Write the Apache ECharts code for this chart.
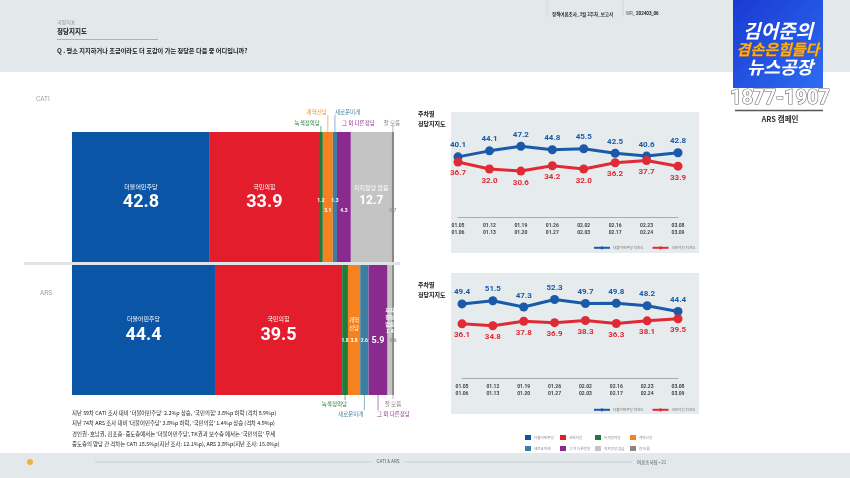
<!DOCTYPE html>
<html>
<head>
<meta charset="utf-8">
<script src="https://cdn.jsdelivr.net/npm/echarts/dist/echarts.min.js"></script>
<style>
  html, body { margin: 0; padding: 0; background: #fff; }
  #main { width: 850px; height: 478px; }
</style>
</head>
<body>
<div id="main"></div>
<script>
// party shares (%)
const parties = ["더불어민주당", "국민의힘", "녹색정의당", "개혁신당", "새로운미래", "그 외 다른정당", "지지정당 없음", "잘 모름"];
const catiShares = [42.8, 33.9, 1.2, 3.1, 1.3, 4.3, 12.7, 0.7];
const arsShares = [44.4, 39.5, 1.8, 3.8, 2.6, 5.9, 1.4, 0.6];

// weekly trend
const weekLabels = ["01.05\n01.06", "01.12\n01.13", "01.19\n01.20", "01.26\n01.27", "02.02\n02.03", "02.16\n02.17", "02.23\n02.24", "03.08\n03.09"];
const catiDemTrend = [40.1, 44.1, 47.2, 44.8, 45.5, 42.5, 40.6, 42.8];
const catiPppTrend = [36.7, 32.0, 30.6, 34.2, 32.0, 36.2, 37.7, 33.9];
const arsDemTrend = [49.4, 51.5, 47.3, 52.3, 49.7, 49.8, 48.2, 44.4];
const arsPppTrend = [36.1, 34.8, 37.8, 36.9, 38.3, 36.3, 38.1, 39.5];
const trendNames = ["더불어민주당 지지도", "국민의힘 지지도"];

const notes = [
  "지난 59차 CATI 조사 대비 '더불어민주당' 2.2%p 상승, '국민의힘' 3.8%p 하락 (격차 8.9%p)",
  "지난 74차 ARS 조사 대비 '더불어민주당' 3.8%p 하락, '국민의힘' 1.4%p 상승 (격차 4.9%p)",
  "경인권·호남권, 김포층·중도층에서는 '더불어민주당', TK권과 보수층 에서는 '국민의힘' 우세",
  "중도층의 양당 간 격차는 CATI 18.5%p(지난 조사: 12.1%p), ARS 2.8%p(지난 조사: 15.0%p)"
];

const partyColors = ["#0b55a6", "#e31d2c", "#1e7b3c", "#f5821f", "#3d7ea0", "#8b2a8e", "#c4c4c4", "#8c8680"];
const blue = "#1a5aa8";
const red = "#e02a35";
const KR = '"Noto Sans CJK KR", "Noto Sans", sans-serif';
const NUM = 'Roboto, "Noto Sans", sans-serif';

const chart = echarts.init(document.getElementById("main"));

function bigLabel(nameLh, valSize, valLh, dy) {
  return {
    show: true, position: "inside", offset: [0, dy],
    formatter: p => `{n|${p.seriesName}}\n{v|${p.value.toFixed(1)}}`,
    rich: {
      n: { fontSize: 6, color: "#fff", lineHeight: nameLh, fontFamily: KR },
      v: { fontSize: valSize, fontWeight: "bold", color: "#fff", lineHeight: valLh, fontFamily: NUM }
    }
  };
}
function smallLabel(dy, color, size) {
  return {
    show: true, position: "inside", offset: [0, dy],
    formatter: p => p.value.toFixed(1),
    fontSize: size || 5, fontWeight: "bold", color: color || "#fff", fontFamily: NUM
  };
}
const splitLabel = {
  show: true, position: "inside", offset: [0, 3],
  formatter: p => `{n|${p.seriesName.slice(0, 2)}}\n{n|${p.seriesName.slice(2)}}\n{v|${p.value.toFixed(1)}}`,
  rich: {
    n: { fontSize: 5.5, color: "#fff", lineHeight: 8, fontFamily: KR },
    v: { fontSize: 5, fontWeight: "bold", color: "#fff", lineHeight: 18, fontFamily: NUM }
  }
};
const stackedTextLabel = {
  show: true, position: "inside", offset: [0, -9],
  formatter: p => {
    const s = p.seriesName.replace(" ", "");
    return [s.slice(0, 2), s.slice(2, 4), s.slice(4), p.value.toFixed(1)].join("\n");
  },
  fontSize: 5, fontWeight: "bold", color: "#fff", lineHeight: 7, fontFamily: KR
};

const catiLabels = [bigLabel(12, 18, 18, -1), bigLabel(12, 18, 18, -1), smallLabel(4), smallLabel(14), smallLabel(4), smallLabel(14), bigLabel(12, 12, 14, -2), smallLabel(14, "#9a9a9a")];
const arsLabels = [bigLabel(14, 18, 18, -2), bigLabel(14, 18, 18, -2), smallLabel(11), splitLabel, smallLabel(11), smallLabel(11, "#fff", 9), stackedTextLabel, smallLabel(11, "#9a9a9a")];

const series = [];
parties.forEach((name, i) => {
  series.push({
    type: "bar", name: name, stack: "cati", xAxisIndex: 0, yAxisIndex: 0,
    barWidth: "100%", data: [catiShares[i]], itemStyle: { color: partyColors[i] },
    label: catiLabels[i], emphasis: { disabled: true }
  });
});
parties.forEach((name, i) => {
  series.push({
    type: "bar", name: name, stack: "ars", xAxisIndex: 1, yAxisIndex: 1,
    barWidth: "100%", data: [arsShares[i]], itemStyle: { color: partyColors[i] },
    label: arsLabels[i], emphasis: { disabled: true }
  });
});

function trendLine(name, data, axis, color, pos) {
  return {
    type: "line", name: name, xAxisIndex: axis, yAxisIndex: axis, data: data,
    symbol: "circle", symbolSize: 9, lineStyle: { width: 3, color: color },
    itemStyle: { color: color },
    label: {
      show: true, position: pos, distance: 3, color: color, fontSize: 8,
      fontWeight: "bold", fontFamily: NUM, formatter: p => p.value.toFixed(1)
    }
  };
}
series.push(trendLine(trendNames[0], catiDemTrend, 2, blue, "top"));
series.push(trendLine(trendNames[1], catiPppTrend, 2, red, "bottom"));
series.push(trendLine(trendNames[0], arsDemTrend, 3, blue, "top"));
series.push(trendLine(trendNames[1], arsPppTrend, 3, red, "bottom"));

const hiddenValue = { type: "value", min: 0, max: 100, show: false };
const trendX = {
  type: "category", data: weekLabels, boundaryGap: false,
  axisLine: { lineStyle: { color: "#9a9a9a", width: 0.8 } },
  axisTick: { show: false },
  axisLabel: { interval: 0, fontSize: 5, fontWeight: "bold", color: "#444", lineHeight: 7, margin: 5, fontFamily: NUM }
};
const trendY = { type: "value", min: 0, max: 70, show: false };

// one legend per party so the swatches sit on a fixed 4x2 grid
const legendCols = [520, 555, 590, 625];
const partyLegends = parties.map((name, i) => ({
  data: [name], left: legendCols[i % 4], top: i < 4 ? 430 : 441,
  icon: "rect", itemWidth: 6, itemHeight: 5, itemGap: 0,
  textStyle: { fontSize: 3.6, color: "#888", fontFamily: KR, padding: [0, 0, 0, -2] }
}));
const trendLegend = top => ({
  data: trendNames, left: 588, top: top, itemWidth: 16, itemHeight: 4, itemGap: 8,
  textStyle: { fontSize: 3.6, color: "#777", fontFamily: KR, padding: [0, 0, 0, -2] }
});

chart.setOption({
  animation: false,
  backgroundColor: "#fff",
  grid: [
    { left: 72, top: 132, width: 322, height: 130 },
    { left: 72, top: 265, width: 322, height: 130 },
    { left: 458, top: 112, width: 220, height: 105 },
    { left: 462, top: 273, width: 216, height: 105 }
  ],
  xAxis: [
    Object.assign({ gridIndex: 0 }, hiddenValue),
    Object.assign({ gridIndex: 1 }, hiddenValue),
    Object.assign({ gridIndex: 2 }, trendX),
    Object.assign({ gridIndex: 3 }, trendX)
  ],
  yAxis: [
    { gridIndex: 0, type: "category", data: ["CATI"], show: false },
    { gridIndex: 1, type: "category", data: ["ARS"], show: false },
    Object.assign({ gridIndex: 2 }, trendY),
    Object.assign({ gridIndex: 3 }, trendY)
  ],
  legend: [trendLegend(241), trendLegend(403)].concat(partyLegends),
  series: series
});

// annotations placed from the bar scales
function segMid(axis, shares, i) {
  const start = shares.slice(0, i).reduce((a, b) => a + b, 0);
  return chart.convertToPixel({ xAxisIndex: axis }, start + shares[i] / 2);
}
function txt(text, x, y, opts, z) {
  return {
    type: "text", x: x, y: y, silent: true, z: z || 50,
    style: Object.assign({
      text: text, fill: "#333", fontSize: 6, fontFamily: KR,
      align: "left", verticalAlign: "middle"
    }, opts || {})
  };
}
function seg(x1, y1, x2, y2, stroke, w, z) {
  return { type: "line", silent: true, z: z || 50, shape: { x1, y1, x2, y2 }, style: { stroke: stroke, lineWidth: w || 0.6 } };
}
function box(x, y, w, h, fill, z) {
  return { type: "rect", silent: true, z: z === undefined ? -10 : z, shape: { x: x, y: y, width: w, height: h }, style: { fill: fill } };
}

const g = [];
// page frame
g.push(box(0, 0, 850, 72, "#e3e8ea"));
g.push(box(0, 453, 850, 25, "#e3e8ea"));
g.push(box(451, 112, 248, 141, "#e6ebed"));
g.push(box(451, 273, 248, 141, "#e6ebed"));

// header
g.push(txt("국정지표", 57, 22, { fontSize: 5, fill: "#8a8a8a" }));
g.push(txt("정당지지도", 57, 32, { fontSize: 6.5, fontWeight: "bold", fill: "#111" }));
g.push(seg(57, 39.5, 158, 39.5, "#a9b3b8", 1));
g.push(txt("Q . 평소 지지하거나 조금이라도 더 호감이 가는 정당은 다음 중 어디입니까?", 57, 51, { fontSize: 6.2, fontWeight: "bold", fill: "#222" }));
g.push(seg(547, 0, 547, 17, "#cfd6d9", 0.8));
g.push(seg(623, 0, 623, 17, "#cfd6d9", 0.8));
g.push(txt("정책여론조사_3월 2주차_보고서", 552, 14, { fontSize: 4.5, fontWeight: "bold", fill: "#333" }));
g.push(txt("WR_", 626, 14, { fontSize: 4.5, fill: "#555", fontFamily: NUM }));
g.push(txt("202403_06", 636, 14, { fontSize: 4.5, fontWeight: "bold", fill: "#222", fontFamily: NUM }));

// section labels
g.push(txt("CATI", 36, 99, { fontSize: 6.5, fill: "#9aa3a8", fontFamily: NUM }));
g.push(txt("ARS", 40, 293, { fontSize: 6.5, fill: "#9aa3a8", fontFamily: NUM }));
g.push(seg(24, 263.5, 400, 263.5, "#dfe4e7", 3, 60));

// trend titles
g.push(txt("주차별", 418, 114, { fontSize: 6, fontWeight: "bold", fill: "#111" }));
g.push(txt("정당지지도", 418, 124, { fontSize: 6, fontWeight: "bold", fill: "#111" }));
g.push(txt("주차별", 418, 285, { fontSize: 6, fontWeight: "bold", fill: "#111" }));
g.push(txt("정당지지도", 418, 295, { fontSize: 6, fontWeight: "bold", fill: "#111" }));

// CATI party callouts above bar
const cTop = 132;
let m = segMid(0, catiShares, 2);
g.push(seg(m, 126, m, cTop, partyColors[2]));
g.push(txt(parties[2], m - 1, 123, { align: "right", fill: partyColors[2], fontSize: 5.5 }));
m = segMid(0, catiShares, 3);
g.push(seg(m, 115, m, cTop, partyColors[3]));
g.push(txt(parties[3], m - 1, 112, { align: "right", fill: partyColors[3], fontSize: 5.5 }));
m = segMid(0, catiShares, 4);
g.push(seg(m, 115, m, cTop, partyColors[4]));
g.push(txt(parties[4], m, 112, { fill: partyColors[4], fontSize: 5.5 }));
m = segMid(0, catiShares, 5);
g.push(txt(parties[5], m - 2, 123, { fill: partyColors[5], fontSize: 5.5 }));
m = segMid(0, catiShares, 7);
g.push(seg(m, 126, m, cTop, "#8c8680"));
g.push(txt(parties[7], m - 1, 123, { align: "center", fill: "#8c8680", fontSize: 5.5 }));

// ARS party callouts below bar
const aBot = 395;
m = segMid(1, arsShares, 2);
g.push(seg(m, aBot, m, 400, partyColors[2]));
g.push(txt(parties[2], m + 2, 404, { align: "right", fill: partyColors[2], fontSize: 5.5 }));
m = segMid(1, arsShares, 4);
g.push(seg(m, aBot, m, 410, partyColors[4]));
g.push(txt(parties[4], m - 1, 414, { align: "right", fill: partyColors[4], fontSize: 5.5 }));
m = segMid(1, arsShares, 5);
g.push(seg(m, aBot, m, 410, partyColors[5]));
g.push(txt(parties[5], m - 1, 414, { fill: partyColors[5], fontSize: 5.5 }));
m = segMid(1, arsShares, 7);
g.push(seg(m, aBot, m, 399, "#8c8680"));
g.push(txt(parties[7], m, 404, { align: "center", fill: "#8c8680", fontSize: 5.5 }));

// notes
notes.forEach((line, i) => {
  g.push(txt(line, 72, 413 + i * 10.3, { fontSize: 5.4, fill: "#222" }));
});

// footer
g.push({ type: "circle", silent: true, z: 50, shape: { cx: 30, cy: 462, r: 3 }, style: { fill: "#f2b233" } });
g.push(seg(95, 462, 372, 462, "#b9c0c4", 0.6));
g.push(seg(404, 462, 632, 462, "#b9c0c4", 0.6));
g.push(txt("CATI & ARS", 388, 462, { align: "center", fontSize: 4.5, fill: "#666", fontFamily: NUM }));
g.push(txt("여론조사팀 • 21", 637, 462, { fontSize: 4.5, fill: "#555" }));

// broadcast logo overlay
g.push({
  type: "rect", silent: true, z: 80, shape: { x: 733, y: 0, width: 90, height: 88 },
  style: { fill: new echarts.graphic.LinearGradient(0, 0, 1, 1, [{ offset: 0, color: "#1a3ad2" }, { offset: 1, color: "#2d6cf2" }]) }
});
g.push(txt("김어준의", 778, 31, { align: "center", fontSize: 19, fontWeight: "bold", fontStyle: "italic", fill: "#fff" }, 90));
g.push(txt("겸손은힘들다", 778, 49, { align: "center", fontSize: 15, fontWeight: "bold", fontStyle: "italic", fill: "#f7b11c", stroke: "#c9620a", lineWidth: 0.6 }, 90));
g.push(txt("뉴스공장", 780, 67, { align: "center", fontSize: 18, fontWeight: "bold", fontStyle: "italic", fill: "#fff" }, 90));
g.push(txt("1877-1907", 780, 99, { align: "center", fontSize: 20, fontWeight: "bold", fill: "#fff", stroke: "#6e6e6e", lineWidth: 1.2, fontFamily: NUM }));
g.push(seg(735, 110.5, 823, 110.5, "#555", 1.5));
g.push(txt("ARS 캠페인", 780, 119, { align: "center", fontSize: 7.5, fontWeight: "bold", fill: "#333" }));

chart.setOption({ graphic: g });
</script>
</body>
</html>
